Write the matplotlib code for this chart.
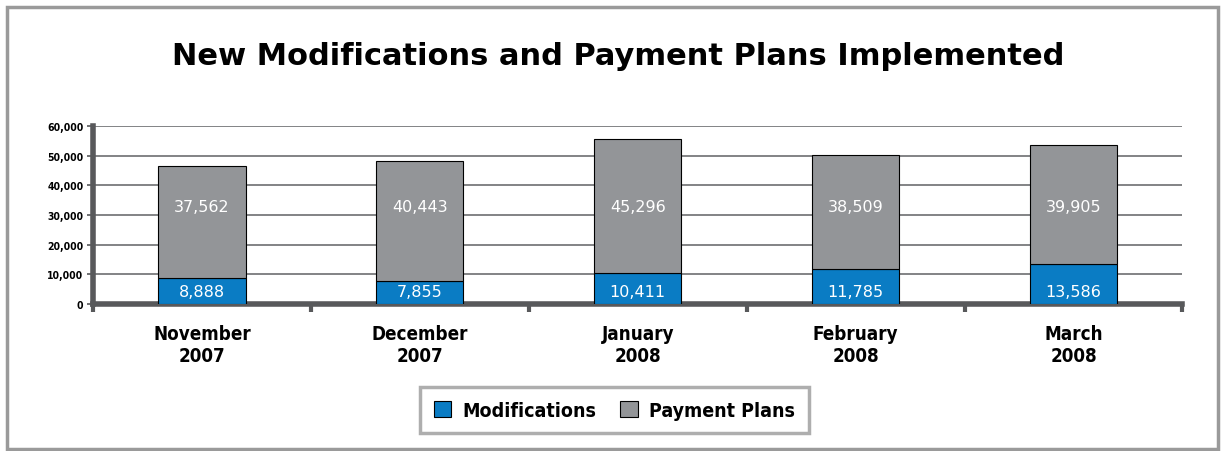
import matplotlib.pyplot as plt
from matplotlib.patches import Rectangle

# data
months = ['November\n2007', 'December\n2007', 'January\n2008', 'February\n2008', 'March\n2008']
modifications = [8888, 7855, 10411, 11785, 13586]
payment_plans = [37562, 40443, 45296, 38509, 39905]

blue = '#0a7cc4'
gray = '#939598'
axis_col = '#58595b'

fig = plt.figure(figsize=(12.24, 4.52), dpi=100)
fig.patches.append(Rectangle((0.006, 0.004), 0.989, 0.978, transform=fig.transFigure,
                             fill=False, edgecolor='#9a9a9a', linewidth=2.5))

ax = fig.add_axes([0.076, 0.325, 0.89, 0.394])
x = range(len(months))
b1 = ax.bar(x, modifications, width=0.4, color=blue, edgecolor='black', linewidth=0.8,
            label='Modifications', zorder=3)
b2 = ax.bar(x, payment_plans, width=0.4, bottom=modifications, color=gray,
            edgecolor='black', linewidth=0.8, label='Payment Plans', zorder=3)

# value labels sit at fixed heights like the original
for i in x:
    ax.text(i, 4400, f'{modifications[i]:,}', ha='center', va='center',
            color='white', fontsize=11.5, zorder=4)
    ax.text(i, 33000, f'{payment_plans[i]:,}',
            ha='center', va='center', color='white', fontsize=11.5, zorder=4)

ax.set_xlim(-0.5, 4.5)
ax.set_ylim(0, 60000)
ax.set_yticks(range(0, 60001, 10000))
ax.set_yticklabels([f'{v:,}' for v in range(0, 60001, 10000)], fontsize=7.5,
                   fontweight='bold', fontstretch='condensed')
ax.yaxis.grid(True, color='#6d6e71', linewidth=1.2, zorder=0)
ax.tick_params(axis='y', length=4, width=1.2, color=axis_col, pad=3)

ax.set_xticks([i - 0.5 for i in range(6)])
ax.set_xticklabels([])
ax.set_xticks(list(x), minor=True)
ax.set_xticklabels(months, minor=True, fontsize=13.5, fontweight='bold',
                   fontstretch='condensed', linespacing=1.25)
ax.tick_params(axis='x', which='major', length=6, width=3, color=axis_col)
ax.tick_params(axis='x', which='minor', length=0, pad=14)

for s in ['top', 'right']:
    ax.spines[s].set_visible(False)
for s in ['left', 'bottom']:
    ax.spines[s].set_linewidth(4)
    ax.spines[s].set_color(axis_col)

fig.text(0.505, 0.875, 'New Modifications and Payment Plans Implemented', ha='center',
         va='center', fontsize=22, fontweight='heavy')

leg = fig.legend(handles=[b1, b2], loc='center', bbox_to_anchor=(0.502, 0.09), ncol=2,
                 frameon=True, fancybox=False, handlelength=0.9, handleheight=0.9,
                 handletextpad=0.6, columnspacing=1.2, borderpad=0.7,
                 prop={'weight': 'bold', 'size': 14, 'stretch': 'condensed'})
leg.get_frame().set_edgecolor('#9a9a9a')
leg.get_frame().set_linewidth(2.5)

fig.savefig('out.png', dpi=100)
